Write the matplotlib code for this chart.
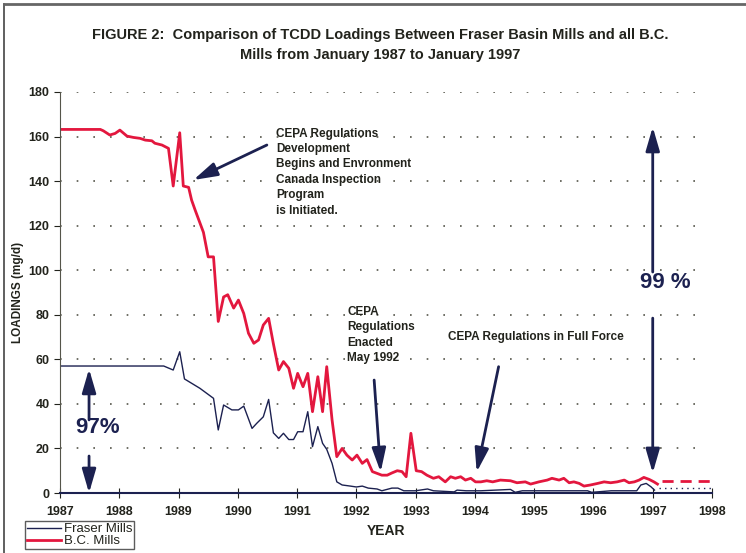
import numpy as np
import matplotlib.pyplot as plt
from matplotlib.lines import Line2D

# B.C. Mills loadings (mg/d)
bc_years = [1987.0, 1987.68, 1987.73, 1987.84, 1987.93, 1988.01, 1988.13, 1988.24, 1988.35,
            1988.44, 1988.55, 1988.6, 1988.72, 1988.83, 1988.91, 1989.02, 1989.08, 1989.17,
            1989.22, 1989.28, 1989.42, 1989.5, 1989.59, 1989.67, 1989.76, 1989.83, 1989.93,
            1990.01, 1990.1, 1990.18, 1990.27, 1990.35, 1990.43, 1990.52, 1990.6, 1990.69,
            1990.77, 1990.86, 1990.94, 1991.01, 1991.1, 1991.18, 1991.26, 1991.35, 1991.43,
            1991.5, 1991.59, 1991.67, 1991.76, 1991.84, 1991.93, 1992.01, 1992.1, 1992.18,
            1992.27, 1992.35, 1992.43, 1992.52, 1992.6, 1992.69, 1992.77, 1992.84, 1992.92,
            1993.01, 1993.1, 1993.19, 1993.3, 1993.39, 1993.5, 1993.59, 1993.67, 1993.76,
            1993.84, 1993.93, 1994.01, 1994.1, 1994.2, 1994.3, 1994.43, 1994.6, 1994.71,
            1994.85, 1994.94, 1995.08, 1995.22, 1995.3, 1995.42, 1995.5, 1995.59, 1995.67,
            1995.76, 1995.84, 1995.95, 1996.07, 1996.18, 1996.29, 1996.4, 1996.52, 1996.6,
            1996.69, 1996.77, 1996.85, 1996.94, 1997.02, 1997.08]
bc_vals = [163.2, 163.2, 162.6, 160.7, 161.4, 162.9, 160.2, 159.6, 159.2,
           158.4, 158.1, 157.0, 156.2, 154.7, 137.8, 161.7, 137.8, 137.2,
           131.5, 127.0, 117.0, 106.0, 106.0, 77.0, 88.0, 89.0, 83.0,
           86.6, 80.6, 71.7, 67.2, 68.7, 75.4, 78.4, 67.0, 55.2,
           59.0, 56.0, 47.0, 53.7, 47.7, 53.7, 36.5, 52.2, 36.5,
           56.7, 32.8, 16.3, 20.0, 17.0, 14.8, 17.0, 13.3, 15.0,
           9.6, 8.8, 8.0, 8.0, 9.0, 10.0, 9.6, 7.3, 26.8,
           10.0, 9.6, 8.0, 6.6, 7.3, 5.0, 7.3, 6.6, 7.3,
           5.8, 6.6, 5.0, 5.0, 5.5, 5.0, 5.8, 5.5, 4.6,
           5.0, 4.0, 5.0, 5.8, 6.6, 5.8, 6.6, 4.6, 5.0,
           4.3, 3.1, 3.6, 4.3, 5.0, 4.6, 5.0, 5.8, 4.6,
           5.0, 5.8, 7.0, 6.1, 5.0, 4.0]
bc_proj_years = [1997.16, 1998.0]
bc_proj_vals = [5.3, 5.3]

# Fraser Basin Mills loadings (mg/d)
fr_years = [1987.0, 1988.75, 1988.91, 1989.02, 1989.1, 1989.36, 1989.59, 1989.67, 1989.76,
            1989.9, 1990.01, 1990.1, 1990.24, 1990.32, 1990.43, 1990.52, 1990.6, 1990.69,
            1990.77, 1990.86, 1990.94, 1991.01, 1991.1, 1991.18, 1991.26, 1991.35, 1991.43,
            1991.5, 1991.59, 1991.67, 1991.76, 1991.9, 1992.0, 1992.1, 1992.2, 1992.35,
            1992.43, 1992.6, 1992.7, 1992.8, 1993.0, 1993.2, 1993.3, 1993.65, 1993.7,
            1993.85, 1994.1, 1994.6, 1994.68, 1994.8, 1995.9, 1995.97, 1996.3, 1996.73,
            1996.8, 1996.89, 1996.97, 1997.03]
fr_vals = [57.0, 57.0, 55.2, 63.4, 51.2, 47.0, 42.5, 28.3, 39.5,
           37.3, 37.3, 39.0, 29.0, 31.3, 34.2, 42.0, 27.0, 24.5,
           26.8, 24.0, 24.0, 27.5, 27.5, 36.5, 20.8, 29.8, 22.3,
           19.6, 13.3, 5.0, 3.6, 3.1, 2.7, 3.1, 2.2, 1.8,
           1.0, 2.2, 2.2, 1.0, 1.0, 1.8, 1.0, 0.5, 1.3,
           1.0, 1.0, 1.6, 0.3, 1.0, 1.0, 0.3, 1.0, 1.0,
           3.6, 4.3, 2.8, 1.3]
fr_proj_years = [1997.1, 1998.0]
fr_proj_vals = [2.1, 2.1]

red = '#e3173e'
navy = '#1c2150'
txt = '#22231c'

plt.rcParams['font.family'] = ['Liberation Sans', 'DejaVu Sans']

fig = plt.figure(figsize=(7.46, 5.53), dpi=100)
ax = fig.add_axes([60 / 746, 60 / 553, 652 / 746, 401 / 553])

ax.plot(fr_years, fr_vals, color=navy, lw=1.0, label='Fraser Mills')
ax.plot(bc_years, bc_vals, color=red, lw=2.0, label='B.C. Mills')
ax.plot(bc_proj_years, bc_proj_vals, color=red, lw=2.0, ls=(0, (4, 2.5)))
ax.plot(fr_proj_years, fr_proj_vals, color=navy, lw=1.0, ls=(0, (1, 3)))

ax.set_xlim(1987, 1998)
ax.set_ylim(0, 180)
ax.set_xticks(range(1987, 1999))
ax.set_yticks(range(0, 181, 20))
ax.tick_params(axis='both', labelsize=9, colors=txt, length=4)
ax.tick_params(axis='x', direction='inout', length=7, pad=6)
ax.tick_params(axis='y', direction='out')
for lab in ax.get_xticklabels() + ax.get_yticklabels():
    lab.set_fontweight('bold')

for s in ['top', 'right']:
    ax.spines[s].set_visible(False)
ax.spines['left'].set_color('#55554a')
ax.spines['bottom'].set_color(navy)
ax.spines['bottom'].set_linewidth(1.5)

# dotted gridlines stop short of 1998
for v in range(20, 181, 20):
    ax.plot([1987, 1997.9], [v, v], color='#55554a', lw=1.2, ls=(0, (1, 9)), zorder=0)

ax.set_xlabel('YEAR', fontsize=10, fontweight='bold', color=txt, labelpad=4)
ax.set_ylabel('LOADINGS (mg/d)', fontsize=8.5, fontweight='bold', color=txt, labelpad=3)

fig.text(380 / 746, 1 - 45 / 553,
         'FIGURE 2:  Comparison of TCDD Loadings Between Fraser Basin Mills and all B.C.\n'
         'Mills from January 1987 to January 1997',
         ha='center', va='center', fontsize=10.5, fontweight='bold', color=txt, linespacing=1.5)

arrow = dict(arrowstyle='-|>,head_length=1.2,head_width=0.35', color=navy, lw=2,
             mutation_scale=12, shrinkA=0, shrinkB=0)

ax.text(1990.65, 164, 'CEPA Regulations\nDevelopment\nBegins and Envronment\nCanada Inspection\nProgram\nis Initiated.',
        ha='left', va='top', fontsize=8.5, fontweight='bold', color=txt, linespacing=1.38)
ax.annotate('', xy=(1989.25, 140.5), xytext=(1990.49, 156.2), arrowprops=arrow)

ax.text(1991.85, 84, 'CEPA\nRegulations\nEnacted\nMay 1992',
        ha='left', va='top', fontsize=8.5, fontweight='bold', color=txt, linespacing=1.38)
ax.annotate('', xy=(1992.41, 9.4), xytext=(1992.30, 50.7), arrowprops=arrow)

ax.text(1993.54, 70, 'CEPA Regulations in Full Force',
        ha='left', va='center', fontsize=8.5, fontweight='bold', color=txt)
ax.annotate('', xy=(1994.03, 9.4), xytext=(1994.40, 56.7), arrowprops=arrow)

ax.text(1997.22, 94.3, '99 %', ha='center', va='center', fontsize=16, fontweight='bold', color=navy)
ax.annotate('', xy=(1997.0, 164.3), xytext=(1997.0, 99.2), arrowprops=arrow)
ax.annotate('', xy=(1997.0, 9.0), xytext=(1997.0, 78.5), arrowprops=arrow)

ax.text(1987.63, 29.2, '97%', ha='center', va='center', fontsize=16, fontweight='bold', color=navy)
ax.annotate('', xy=(1987.49, 55.7), xytext=(1987.49, 32.8), arrowprops=arrow)
ax.annotate('', xy=(1987.49, 0.0), xytext=(1987.49, 16.6), arrowprops=arrow)

leg = fig.legend(loc='upper left', bbox_to_anchor=(25 / 746, 1 - 521 / 553), fontsize=9.5,
                 frameon=True, fancybox=False, edgecolor='#333333', handlelength=2.6,
                 handletextpad=0.2, borderpad=0.15, labelspacing=0.0, borderaxespad=0)
for t in leg.get_texts():
    t.set_color(txt)

# scanned page frame
fig.add_artist(Line2D([4 / 746, 4 / 746], [0, 1 - 4 / 553], color='#444444', lw=1.2))
fig.add_artist(Line2D([4 / 746, 1], [1 - 4 / 553, 1 - 4 / 553], color='#666666', lw=2))

fig.savefig('out.png', dpi=100)
